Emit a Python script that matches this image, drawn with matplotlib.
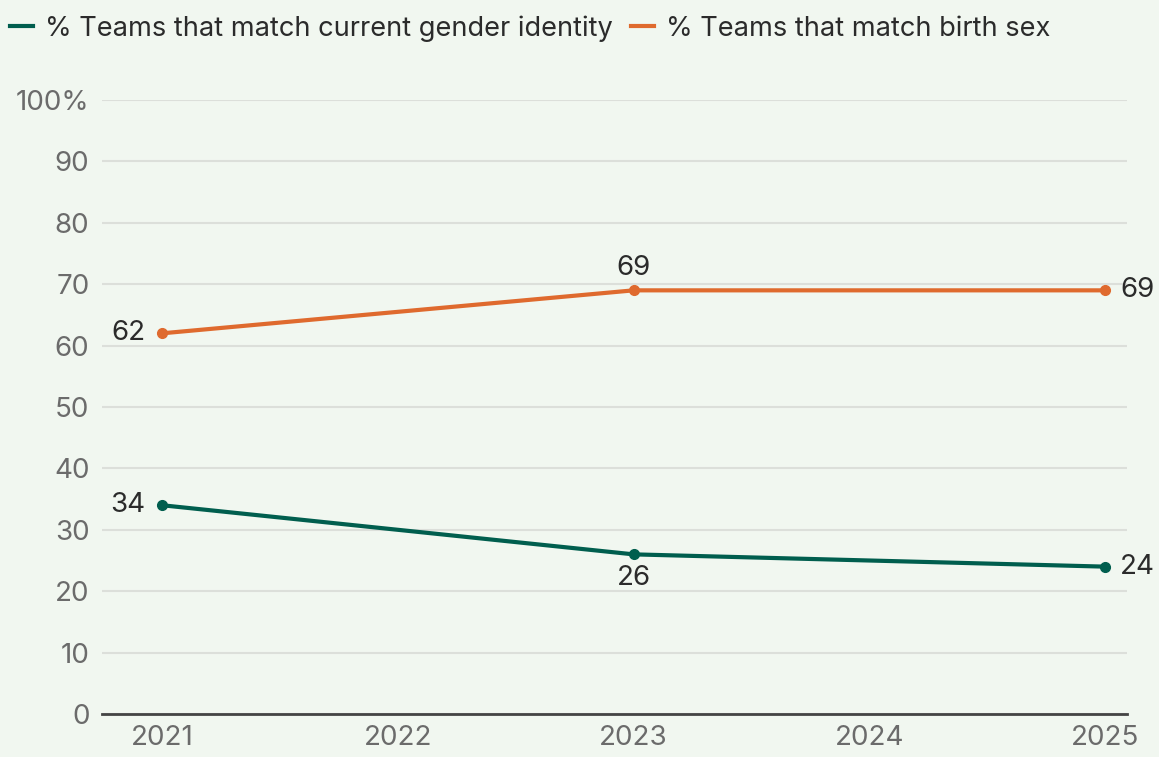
import matplotlib
matplotlib.use("Agg")
import matplotlib.pyplot as plt
from matplotlib.lines import Line2D

years = [2021, 2023, 2025]
gender_identity = [34, 26, 24]
birth_sex = [62, 69, 69]
series_names = ["% Teams that match current gender identity", "% Teams that match birth sex"]
tick_years = [2021, 2022, 2023, 2024, 2025]
y_ticks = [0, 10, 20, 30, 40, 50, 60, 70, 80, 90, 100]

teal = "#005E4E"
orange = "#DF6A2E"
bg = "#F1F7F0"

plt.rcParams['font.family'] = ['Inter', 'DejaVu Sans']

fig = plt.figure(figsize=(11.59, 7.57), dpi=100, facecolor=bg)
ax = fig.add_axes([0.088, 0.0568, 0.8844, 0.8111], facecolor=bg)

ax.plot(years, gender_identity, color=teal, lw=3, marker="o", ms=7, zorder=3)
ax.plot(years, birth_sex, color=orange, lw=3, marker="o", ms=7, zorder=3)

# data labels
lab = dict(fontsize=20, color="#2b2b2b")
ax.annotate(str(gender_identity[0]), (years[0], gender_identity[0]), xytext=(-12, 0),
            textcoords="offset points", ha="right", va="center", **lab)
ax.annotate(str(gender_identity[1]), (years[1], gender_identity[1]), xytext=(0, -8),
            textcoords="offset points", ha="center", va="top", **lab)
ax.annotate(str(gender_identity[2]), (years[2], gender_identity[2]), xytext=(11, 0),
            textcoords="offset points", ha="left", va="center", **lab)
ax.annotate(str(birth_sex[0]), (years[0], birth_sex[0]), xytext=(-12, 0),
            textcoords="offset points", ha="right", va="center", **lab)
ax.annotate(str(birth_sex[1]), (years[1], birth_sex[1]), xytext=(0, 7),
            textcoords="offset points", ha="center", va="bottom", **lab)
ax.annotate(str(birth_sex[2]), (years[2], birth_sex[2]), xytext=(11, 0),
            textcoords="offset points", ha="left", va="center", **lab)

ax.set_xlim(2020.745, 2025.093)
ax.set_ylim(0, 100)
ax.set_xticks(tick_years)
ax.set_xticklabels([str(y) for y in tick_years])
ax.set_yticks(y_ticks)
ax.set_yticklabels([str(v) + ("%" if v == 100 else "") for v in y_ticks])
ax.tick_params(axis="both", length=0, labelsize=20, colors="#6b6b6b")
ax.tick_params(axis="y", pad=9)
ax.tick_params(axis="x", pad=8)

ax.grid(axis="y", color="#dcdfda", lw=1.5)
ax.set_axisbelow(True)
for s in ["top", "right", "left"]:
    ax.spines[s].set_visible(False)
ax.spines["bottom"].set_color("#444444")
ax.spines["bottom"].set_linewidth(2)

handles = [Line2D([0], [0], color=teal, lw=3), Line2D([0], [0], color=orange, lw=3)]
fig.legend(handles, series_names, loc="upper left", bbox_to_anchor=(-0.0125, 1.012), ncol=2,
           frameon=False, fontsize=19.6, handlelength=0.85, handletextpad=0.45,
           columnspacing=0.65, labelcolor="#2b2b2b")

fig.savefig("out.png", dpi=100, facecolor=bg)
